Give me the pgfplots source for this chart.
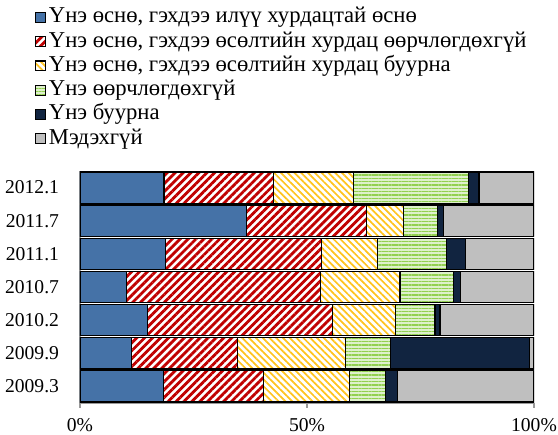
\documentclass[border=0pt]{standalone}
\usepackage{fontspec}
\setmainfont{Liberation Serif}
\usepackage{pgfplots}
\pgfplotsset{compat=1.18}
\usetikzlibrary{patterns.meta}
\definecolor{cblue}{RGB}{69,114,167}
\definecolor{cred}{RGB}{192,0,0}
\definecolor{cyel}{RGB}{255,196,30}
\definecolor{cgreen}{RGB}{146,208,80}
\definecolor{cgreenbg}{RGB}{222,240,204}
\definecolor{cnavy}{RGB}{17,36,64}
\definecolor{cgray}{RGB}{191,191,191}
\newcommand{\ff}{\fontsize{14.7}{17}\selectfont}
\newcommand{\lf}{\fontsize{17}{18}\selectfont}
\begin{document}
\begin{tikzpicture}
\path[use as bounding box] (-60pt,-24pt) rectangle (358.5pt,302.25pt);
\begin{axis}[
  scale only axis,
  width=340.5pt, height=174pt,
  xbar stacked,
  bar width=23.5pt,
  xmin=0, xmax=100,
  ymin=-0.5, ymax=6.5,
  axis x line*=bottom, axis y line*=left,
  axis line style={gray!80, line width=0.8pt, -},
  xtick={0,50,100},
  xticklabels={0\%,50\%,100\%},
  xtick style={gray!80, line width=0.8pt},
  tick align=outside,
  major tick length=3.75pt,
  ytick={0,...,6},
  yticklabels={2009.3,2009.9,2010.2,2010.7,2011.1,2011.7,2012.1},
  ytick style={draw=none},
  extra y ticks={-0.5,0.5,...,6.5},
  extra y tick labels={},
  extra y tick style={tick style={gray!80, line width=0.8pt}, major tick length=3.75pt},
  /pgf/number format/assume math mode=true,
  tick label style={font=\ff},
  yticklabel style={xshift=-8.5pt},
  xticklabel style={yshift=-4pt},
  legend style={at={(-0.099,1.7155)}, anchor=north west, draw=none, fill=none,
    font=\lf, inner sep=0pt, row sep=0pt, legend cell align=left,
    nodes={inner sep=0pt, text height=13.2pt, text depth=5pt}},
  legend image code/.code={\draw[#1, line width=0.6pt] (0pt,-3.7pt) rectangle (7.4pt,3.7pt);},
  every axis plot/.append style={draw=black, line width=0.9pt},
]
\addplot[fill=cblue] coordinates {(18.4,0) (11.4,1) (14.8,2) (10.3,3) (18.9,4) (36.7,5) (18.5,6)};
\addlegendentry{\hspace{2.2pt}Үнэ өснө, гэхдээ илүү хурдацтай өснө}
\addplot[preaction={fill=white}, pattern={Lines[angle=45,distance=4.2pt,line width=2.1pt]}, pattern color=cred] coordinates {(22.0,0) (23.3,1) (40.8,2) (42.7,3) (34.3,4) (26.4,5) (24.1,6)};
\addlegendentry{\hspace{2.2pt}Үнэ өснө, гэхдээ өсөлтийн хурдац өөрчлөгдөхгүй}
\addplot[preaction={fill=white}, pattern={Lines[angle=-45,distance=3.6pt,line width=1.3pt]}, pattern color=cyel] coordinates {(18.9,0) (23.8,1) (13.9,2) (17.5,3) (12.3,4) (8.1,5) (17.7,6)};
\addlegendentry{\hspace{2.2pt}Үнэ өснө, гэхдээ өсөлтийн хурдац буурна}
\addplot[preaction={fill=cgreenbg}, pattern={Lines[angle=0,distance=2.5pt,line width=1.1pt]}, pattern color=cgreen] coordinates {(8.0,0) (9.9,1) (8.7,2) (11.7,3) (15.2,4) (7.6,5) (25.2,6)};
\addlegendentry{\hspace{2.2pt}Үнэ өөрчлөгдөхгүй}
\addplot[fill=cnavy] coordinates {(2.6,0) (30.6,1) (1.1,2) (1.6,3) (4.3,4) (1.2,5) (2.4,6)};
\addlegendentry{\hspace{2.2pt}Үнэ буурна}
\addplot[fill=cgray] coordinates {(30.1,0) (1.0,1) (20.7,2) (16.2,3) (15.0,4) (20.0,5) (12.1,6)};
\addlegendentry{\hspace{2.2pt}Мэдэхгүй}
\end{axis}
\end{tikzpicture}
\end{document}
